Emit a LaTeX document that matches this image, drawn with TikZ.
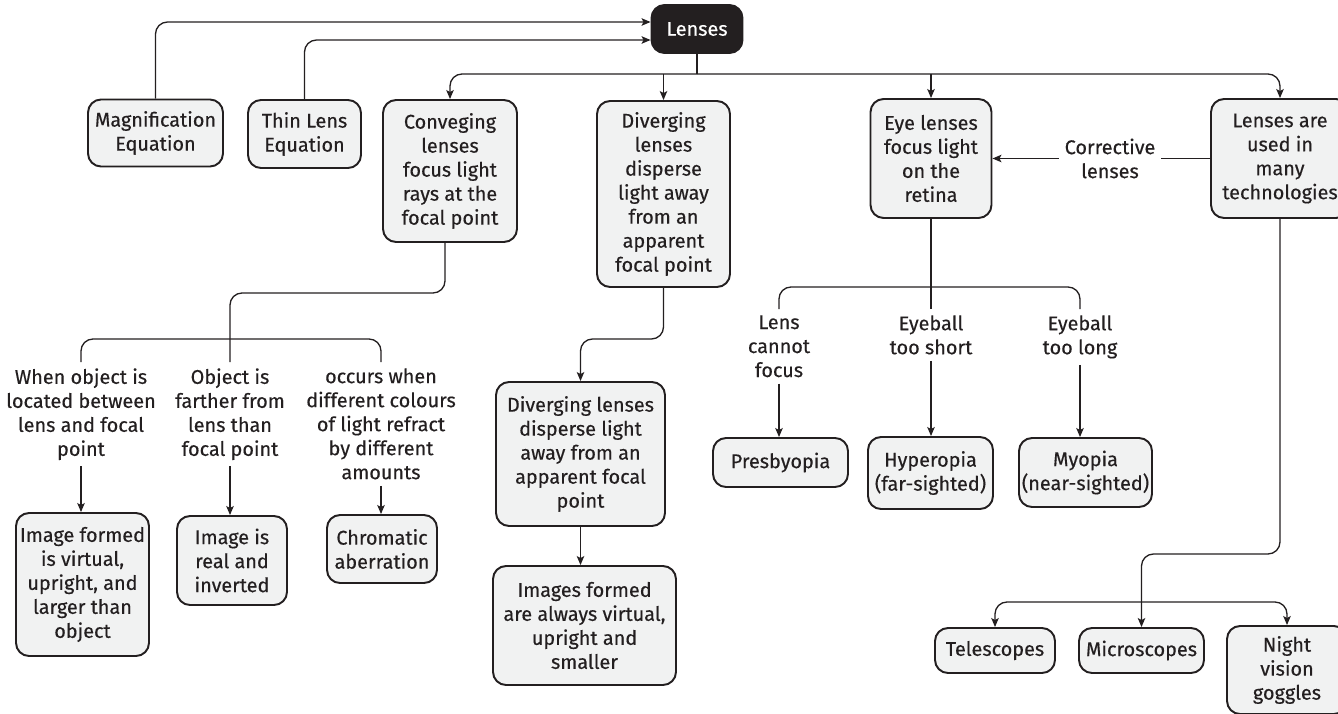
\documentclass[tikz,border=0pt]{standalone}
\usepackage{fontspec}
\setmainfont{Fira Sans}[FakeBold=0.35]
\usetikzlibrary{arrows.meta}
\definecolor{lblack}{HTML}{231F20}
\definecolor{lgray}{HTML}{F1F2F2}

\begin{document}
\begin{tikzpicture}[x=0.02cm, y=-0.02cm,
	every node/.style={text=lblack, font=\fontsize{11.3}{13.66}\selectfont, align=center, inner sep=0pt},
	box/.style={draw=lblack, line width=1.1pt, fill=lgray, rounded corners=0.26cm},
	lbl/.style={anchor=north, inner ysep=0.12cm},
	line/.style={draw=lblack, line width=0.75pt, rounded corners=0.24cm},
	arr/.style={line, -{Stealth[length=0.18cm, width=0.15cm, inset=0.04cm]}}]
	\useasboundingbox (0,0) rectangle (1338,713);
	% top row
	\node[box, fill=lblack, text=white, minimum width=1.82cm, minimum height=0.96cm] (lenses) at (697,29) {Lenses};
	\node[box, minimum width=2.70cm, minimum height=1.34cm] (mag) at (155.5,133) {Magnification\\Equation};
	\node[box, minimum width=2.26cm, minimum height=1.36cm] (thin) at (304.5,134) {Thin Lens\\Equation};
	\node[box, minimum width=2.68cm, minimum height=2.84cm] (conv) at (450,171) {Conveging\\lenses\\focus light\\rays at the\\focal point};
	\node[box, minimum width=2.66cm, minimum height=3.72cm] (div) at (663.5,194) {Diverging\\lenses\\disperse\\light away\\from an\\apparent\\focal point};
	\node[box, minimum width=2.42cm, minimum height=2.38cm] (eye) at (931,158.5) {Eye lenses\\focus light\\on the\\retina};
	\node[box, minimum width=2.76cm, minimum height=2.38cm] (tech) at (1280,158.5) {Lenses are\\used in\\many\\technologies};
	\node[inner xsep=0.11cm] (corr) at (1110,158.5) {Corrective\\lenses};

	% converging lenses
	\node[lbl] (when) at (81,362) {When object is\\located between\\lens and focal\\point};
	\node[lbl] (far) at (230,362) {Object is\\farther from\\lens than\\focal point};
	\node[lbl] (occurs) at (381,362) {occurs when\\different colours\\of light refract\\by different\\amounts};
	\node[box, minimum width=2.66cm, minimum height=2.86cm] (virt) at (82.5,584.5) {Image formed\\is virtual,\\upright, and\\larger than\\object};
	\node[box, minimum width=2.20cm, minimum height=1.78cm] (real) at (232,560.5) {Image is\\real and\\inverted};
	\node[box, minimum width=2.20cm, minimum height=1.36cm] (chrom) at (382,549) {Chromatic\\aberration};

	% diverging lenses
	\node[box, minimum width=3.38cm, minimum height=2.88cm] (div2) at (580.5,454) {Diverging lenses\\disperse light\\away from an\\apparent focal\\point};
	\node[box, minimum width=3.66cm, minimum height=2.38cm] (small) at (584.5,625.5) {Images formed\\are always virtual,\\upright and\\smaller};

	% eye
	\node[lbl] (cannot) at (779,309) {Lens\\cannot\\focus};
	\node[lbl] (short) at (931,309) {Eyeball\\too short};
	\node[lbl] (long) at (1080,309) {Eyeball\\too long};
	\node[box, minimum width=2.70cm, minimum height=0.98cm] (presby) at (780.5,462.5) {Presbyopia};
	\node[box, minimum width=2.50cm, minimum height=1.44cm] (hyper) at (930.5,473) {Hyperopia\\(far-sighted)};
	\node[box, minimum width=2.66cm, minimum height=1.38cm] (myopia) at (1085.5,472.5) {Myopia\\(near-sighted)};

	% technologies
	\node[box, minimum width=2.40cm, minimum height=0.90cm] (tele) at (995,650.5) {Telescopes};
	\node[box, minimum width=2.50cm, minimum height=0.90cm] (micro) at (1141.5,650.5) {Microscopes};
	\node[box, minimum width=2.40cm, minimum height=1.76cm] (night) at (1287,670) {Night\\vision\\goggles};

	% connectors
	\coordinate (hub) at (697,74);
	\draw[line] (lenses.south) -- (hub);
	\draw[arr] (hub) -| (conv.north);
	\draw[arr] (hub) -| (tech.north);
	\draw[arr] (div.north |- hub) -- (div.north);
	\draw[arr] (eye.north |- hub) -- (eye.north);
	\draw[arr] (mag.north) |- (lenses.west |- 0,22);
	\draw[arr] (thin.north) |- (lenses.west |- 0,40);
	\draw[line] (tech.west) -- (corr.east);
	\draw[arr] (corr.west) -- (eye.east);

	\draw[line] ([xshift=-0.1cm]conv.south) |- (far.north |- 0,293) -- (far.north);
	\draw[line] (when.north) |- (occurs.north |- 0,339) -- (occurs.north);
	\draw[arr] (when.south) -- (when.south |- virt.north);
	\draw[arr] (far.south) -- (far.south |- real.north);
	\draw[arr] (occurs.south) -- (occurs.south |- chrom.north);

	\draw[arr] (div.south) |- (div2.north |- 0,339) -- (div2.north);
	\draw[arr] (div2.south) -- (div2.south |- small.north);

	\draw[line] (eye.south) -- (short.north);
	\draw[line] (cannot.north) |- (long.north |- 0,287) -- (long.north);
	\draw[arr] (cannot.south) -- (cannot.south |- presby.north);
	\draw[arr] (short.south) -- (short.south |- hyper.north);
	\draw[arr] (long.south) -- (long.south |- myopia.north);

	\draw[arr] (tech.south) |- (micro.north |- 0,554) -- (micro.north);
	\draw[arr] (micro.north |- 0,602) -| (tele.north);
	\draw[arr] (micro.north |- 0,602) -| (night.north);
\end{tikzpicture}
\end{document}
